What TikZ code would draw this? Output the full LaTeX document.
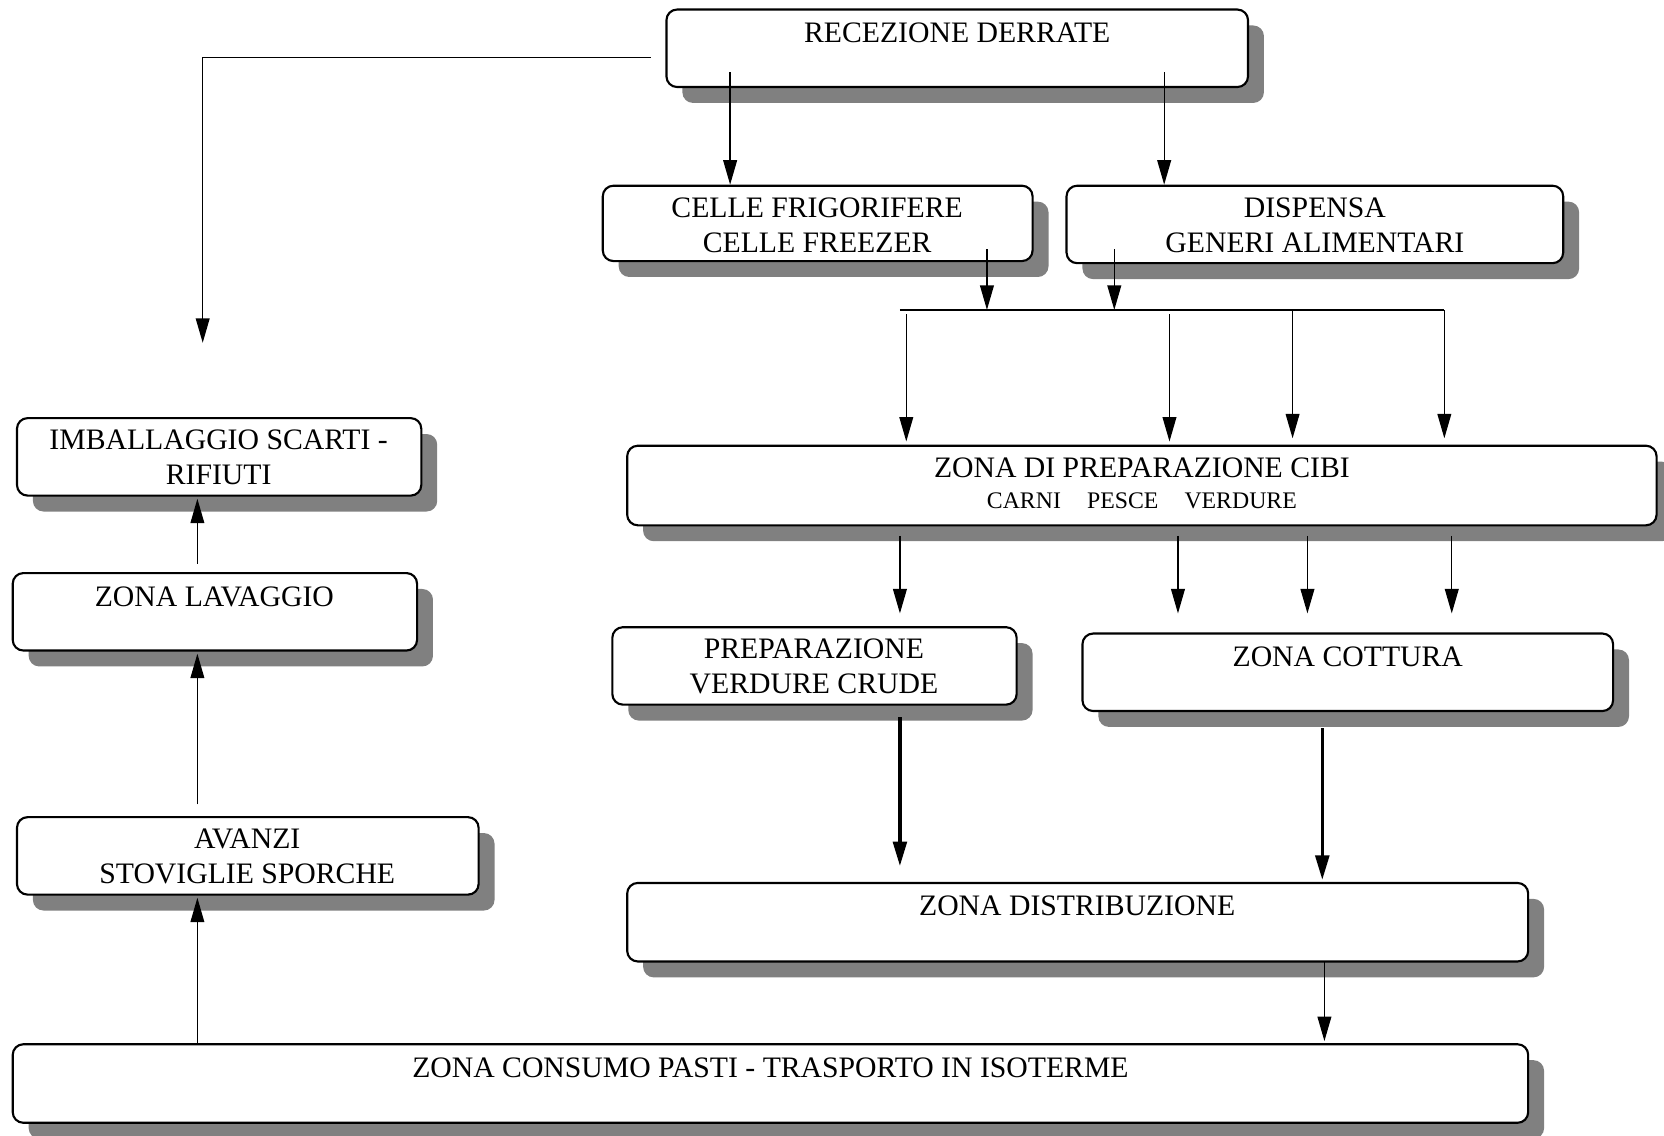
\documentclass[tikz,border=0pt]{standalone}
\usepackage{fontspec}
\setmainfont{Liberation Serif}
\usetikzlibrary{arrows.meta,shadows,calc}
\newcommand{\bx}[5]{\node[box, minimum width={(#4-#2)*0.5pt}, minimum height={(#5-#3)*0.5pt}] (#1) at ({(#2+#4)/2},{(#3+#5)/2}) {};}
\begin{document}
\begin{tikzpicture}[x=0.5pt,y=-0.5pt,
 box/.style={draw, line width=1pt, rounded corners=5pt, fill=white, inner sep=0pt,
   drop shadow={shadow xshift=7.5pt, shadow yshift=-7.5pt, fill=black!50, opacity=1}},
 lbl/.style={align=center, font=\fontsize{14}{16.5}\selectfont, inner sep=0pt},
 sml/.style={font=\fontsize{11.2}{12}\selectfont, inner sep=0pt},
 arr/.style={line width=0.6pt, -{Triangle[length=11.5pt,width=6.5pt]}},
 bigarr/.style={line width=1.5pt, -{Triangle[length=11.5pt,width=6.5pt]}},
 plain/.style={line width=0.8pt}
]
\useasboundingbox (0,0) rectangle (1568,1070);

% boxes
\bx{rec}{628}{9}{1176}{82}
\bx{cel}{568}{175}{973}{246}
\bx{dis}{1005}{175}{1473}{248}
\bx{imb}{16}{394}{397}{467}
\bx{prep}{591}{420}{1561}{495}
\bx{lav}{12}{540}{393}{613}
\bx{pvc}{577}{591}{958}{664}
\bx{cot}{1020}{597}{1520}{670}
\bx{ava}{16}{770}{451}{843}
\bx{dist}{591}{832}{1440}{906}
\bx{cons}{12}{984}{1440}{1058}

% labels
\node[lbl] (recT) at (902,31) {RECEZIONE DERRATE};
\node[lbl] (celT) at (770,212) {CELLE FRIGORIFERE\\CELLE FREEZER};
\node[lbl] (disT) at (1239,212) {DISPENSA\\GENERI ALIMENTARI};
\node[lbl] (imbT) at (206,431) {IMBALLAGGIO SCARTI -\\RIFIUTI};
\node[lbl] (prepT) at (1076,441) {ZONA DI PREPARAZIONE CIBI};
\node[sml] (prepS) at (1076,472) {CARNI\hspace{1.1em}PESCE\hspace{1.1em}VERDURE};
\node[lbl] (lavT) at (202,562) {ZONA LAVAGGIO};
\node[lbl] (pvcT) at (767,628) {PREPARAZIONE\\VERDURE CRUDE};
\node[lbl] (cotT) at (1270,619) {ZONA COTTURA};
\node[lbl] (avaT) at (233,807) {AVANZI\\STOVIGLIE SPORCHE};
\node[lbl] (distT) at (1015,854) {ZONA DISTRIBUZIONE};
\node[lbl] (consT) at (726,1006) {ZONA CONSUMO PASTI - TRASPORTO IN ISOTERME};

% connectors
\coordinate (wA) at (613,54);
\coordinate (wB) at (191,323);
\draw[arr] (wA) -| (wB);

\coordinate (r1) at (688,68);
\coordinate (r2) at (1097,68);
\draw[arr] (r1) -- (r1 |- cel.north);
\draw[arr] (r2) -- (r2 |- dis.north);

\coordinate (busL) at (848,292);
\coordinate (busR) at (1361,292);
\draw[plain] (busL) -- (busR);
\coordinate (c1) at (930,235);
\coordinate (d1) at (1050,235);
\draw[arr] (c1) -- (c1 |- busL);
\draw[arr] (d1) -- (d1 |- busL);

\coordinate (b1) at (854,296);
\coordinate (b2) at (1102,296);
\coordinate (b3) at (1218,292);
\draw[arr, shorten >=1.5pt] (b1) -- (b1 |- prep.north);
\draw[arr, shorten >=1.5pt] (b2) -- (b2 |- prep.north);
\draw[arr, shorten >=3pt] (b3) -- (b3 |- prep.north);
\draw[arr, shorten >=3pt] (busR) -- (busR |- prep.north);

\coordinate (p1) at (848,505);
\coordinate (p2) at (1110,505);
\coordinate (p3) at (1232,505);
\coordinate (p4) at (1368,505);
\draw[arr, shorten >=6pt] (p1) -- (p1 |- pvc.north);
\draw[arr, shorten >=9pt] (p2) -- (p2 |- cot.north);
\draw[arr, shorten >=9pt] (p3) -- (p3 |- cot.north);
\draw[arr, shorten >=9pt] (p4) -- (p4 |- cot.north);

\coordinate (t1) at (848,676);
\coordinate (t2) at (1246,686);
\draw[bigarr, shorten >=7.5pt] (t1) -- (t1 |- dist.north);
\draw[bigarr, shorten >=1pt] (t2) -- (t2 |- dist.north);

\coordinate (dd) at (1248,906);
\draw[arr, shorten >=1pt] (dd) -- (dd |- cons.north);

\coordinate (k1) at (186,984);
\coordinate (k2) at (186,758);
\coordinate (k3) at (186,531);
\draw[arr, shorten >=1pt] (k1) -- (k1 |- ava.south);
\draw[arr, shorten >=1pt] (k2) -- (k2 |- lav.south);
\draw[arr, shorten >=1pt] (k3) -- (k3 |- imb.south);
\end{tikzpicture}
\end{document}
